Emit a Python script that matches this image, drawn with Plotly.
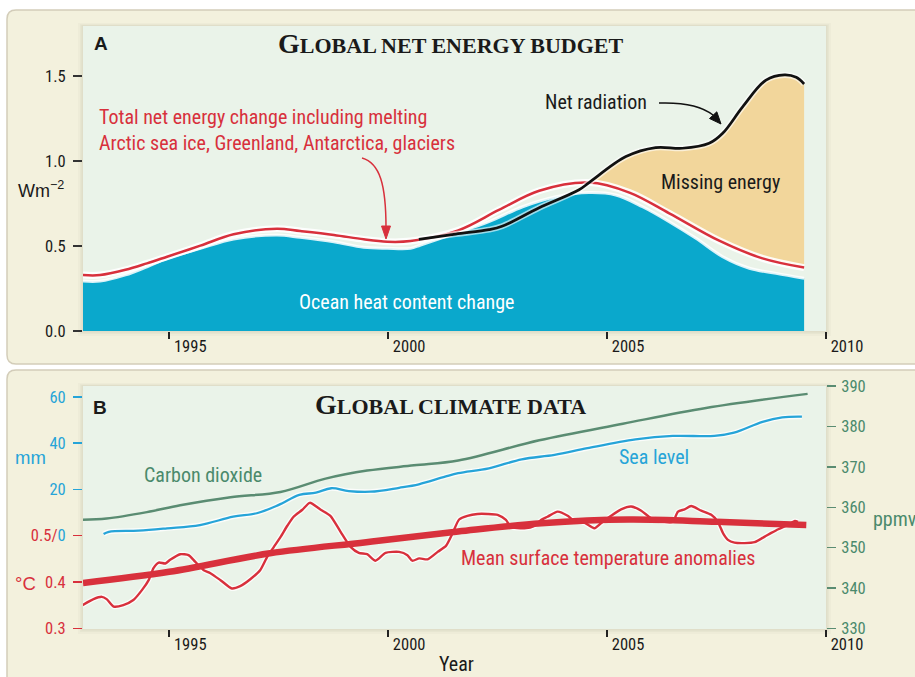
import plotly.graph_objects as go

# ---------------- Panel A data (W m-2) ----------------
ocean_year = [1993.03, 1993.42, 1994.0, 1994.49, 1994.95, 1995.71, 1996.47, 1997.46, 1997.99, 1998.76,
              1999.44, 1999.98, 2000.51, 2000.74, 2001.54, 2002.3, 2003.07, 2003.83, 2004.59, 2005.2,
              2005.81, 2006.42, 2007.03, 2007.64, 2008.25, 2008.86, 2009.5]
ocean_heat = [0.294, 0.294, 0.33, 0.378, 0.427, 0.486, 0.541, 0.565, 0.551, 0.525,
              0.492, 0.486, 0.486, 0.506, 0.575, 0.643, 0.731, 0.790, 0.814, 0.800,
              0.731, 0.643, 0.545, 0.437, 0.369, 0.339, 0.31]

total_year = [1993.03, 1993.42, 1994.0, 1994.49, 1994.95, 1995.71, 1996.47, 1997.46, 1997.99, 1998.76,
              1999.44, 1999.98, 2000.51, 2001.6, 2002.53, 2003.45, 2004.59, 2005.51, 2006.42, 2007.56,
              2008.55, 2009.5]
total_energy = [0.329, 0.329, 0.36, 0.398, 0.437, 0.502, 0.569, 0.602, 0.588, 0.565,
                0.539, 0.525, 0.529, 0.592, 0.712, 0.825, 0.873, 0.814, 0.692, 0.531,
                0.427, 0.373]

netrad_year = [2000.70, 2001.54, 2002.3, 2002.6, 2003.45, 2004.36, 2004.59, 2005.43, 2006.11, 2006.72,
               2007.33, 2007.64, 2008.1, 2008.63, 2009.05, 2009.32, 2009.5]
net_radiation = [0.539, 0.57, 0.596, 0.616, 0.725, 0.831, 0.873, 1.026, 1.079, 1.075,
                 1.104, 1.163, 1.32, 1.476, 1.506, 1.492, 1.453]

# ---------------- Panel B data ----------------
co2_year = [1993.03, 1993.57, 1994.49, 1995.25, 1996.4, 1997.54, 1998.57, 1999.52, 2000.59, 2001.6,
            2003.45, 2005.36, 2007.26, 2009.58]
co2_ppmv = [356.9, 357.2, 358.8, 360.5, 362.5, 363.8, 367.1, 369.1, 370.4, 371.6,
            376.6, 380.7, 384.6, 388.1]

sea_year = [1993.5, 1993.62, 1994.3, 1994.95, 1995.7, 1996.46, 1997.0, 1997.5, 1997.97, 1998.35,
            1998.7, 1999.1, 1999.6, 2000.25, 2000.7, 2001.3, 2001.6, 2002.3, 2003.05, 2003.8,
            2004.55, 2005.65, 2006.5, 2007.45, 2007.9, 2008.55, 2009.0, 2009.45]
sea_level_mm = [0.7, 1.7, 2.2, 3.2, 4.6, 8.2, 9.7, 13.3, 17.6, 18.6,
                20.5, 19.3, 19.0, 20.7, 22.2, 25.5, 27.0, 29.1, 33.0, 34.9,
                37.8, 41.6, 43.1, 43.1, 44.5, 49.2, 51.1, 51.4]

temp_year = [1992.96, 1993.27, 1993.46, 1993.57, 1993.73, 1993.95, 1994.18, 1994.38, 1994.53, 1994.64,
             1994.76, 1994.91, 1995.02, 1995.25, 1995.44, 1995.59, 1995.78, 1995.94, 1996.17, 1996.43,
             1996.62, 1996.85, 1997.08, 1997.24, 1997.39, 1997.54, 1997.7, 1997.84, 1998.04, 1998.21,
             1998.46, 1998.68, 1998.91, 1999.14, 1999.33, 1999.52, 1999.71, 1999.94, 2000.25, 2000.44,
             2000.55, 2000.71, 2000.90, 2001.13, 2001.32, 2001.47, 2001.62, 2001.81, 2002.04, 2002.27,
             2002.5, 2002.69, 2002.80, 2003.11, 2003.34, 2003.49, 2003.64, 2003.87, 2004.10, 2004.25,
             2004.48, 2004.71, 2004.86, 2005.09, 2005.32, 2005.55, 2005.78, 2006.0, 2006.31, 2006.5,
             2006.62, 2006.77, 2006.92, 2007.15, 2007.38, 2007.53, 2007.65, 2007.76, 2007.91, 2008.14,
             2008.37, 2008.6, 2008.75, 2008.91, 2009.13, 2009.29, 2009.36]
temp_anomaly = [0.347, 0.363, 0.368, 0.363, 0.347, 0.350, 0.361, 0.383, 0.404, 0.430,
                0.442, 0.440, 0.448, 0.460, 0.458, 0.444, 0.426, 0.419, 0.404, 0.386,
                0.391, 0.406, 0.426, 0.455, 0.476, 0.497, 0.522, 0.541, 0.556, 0.571,
                0.556, 0.543, 0.509, 0.476, 0.463, 0.460, 0.446, 0.463, 0.465, 0.458,
                0.446, 0.451, 0.449, 0.465, 0.478, 0.505, 0.535, 0.543, 0.547, 0.547,
                0.545, 0.534, 0.519, 0.516, 0.521, 0.534, 0.541, 0.552, 0.543, 0.532,
                0.528, 0.516, 0.527, 0.543, 0.557, 0.563, 0.554, 0.538, 0.530, 0.530,
                0.552, 0.557, 0.564, 0.554, 0.545, 0.530, 0.505, 0.491, 0.485, 0.484,
                0.486, 0.498, 0.506, 0.514, 0.523, 0.532, 0.530]

trend_year = [1993.03, 1995.0, 1997.3, 1999.5, 2001.6, 2003.5, 2005.5, 2007.5, 2009.55]
temp_trend = [0.398, 0.422, 0.462, 0.486, 0.509, 0.527, 0.535, 0.530, 0.523]

year_ticks = [1995, 2000, 2005, 2010]
energy_ticks = [0.0, 0.5, 1.0, 1.5]
temp_ticks = [0.3, 0.4, 0.5]
mm_ticks = [20, 40, 60]
ppmv_ticks = [330, 340, 350, 360, 370, 380, 390]

# ---------------- helpers ----------------
W, H = 915, 677
def px(x):
    return x / W
def py(y):
    return 1 - y / H
def P(x, y):
    return f"{px(x)},{py(y)}"

SANS = "Liberation Sans Narrow, Roboto Condensed, Roboto, sans-serif"
SERIF = "Liberation Serif, DejaVu Serif, serif"
RED = "#d8303c"
BLUE_OCEAN = "#0aa8cc"
TAN = "#f2d69b"
MINT = "#eaf3e9"
CREAM = "#f3f1dd"
SEA = "#26a4d8"
CO2C = "#5a8c72"
CO2T = "#4a8a6c"
DARK = "#1a1a1a"

fig = go.Figure()

# ---------------- Panel A traces ----------------
fig.add_trace(go.Scatter(x=ocean_year, y=ocean_heat, mode="lines", fill="tozeroy",
                         fillcolor=BLUE_OCEAN, line=dict(color="rgba(255,255,255,0.85)", width=3, shape="spline"),
                         xaxis="x", yaxis="y", hoverinfo="skip"))

# Missing energy: area between total (below) and net radiation (above) after they cross
cross = 2004.59
lo_x = [x for x in total_year if x >= cross]
lo_y = [v for x, v in zip(total_year, total_energy) if x >= cross]
hi_x = [x for x in netrad_year if x >= cross]
hi_y = [v for x, v in zip(netrad_year, net_radiation) if x >= cross]
fig.add_trace(go.Scatter(x=lo_x, y=lo_y, mode="lines", line=dict(width=0, color=TAN, shape="spline"),
                         xaxis="x", yaxis="y", hoverinfo="skip"))
fig.add_trace(go.Scatter(x=hi_x, y=hi_y, mode="lines", fill="tonexty", fillcolor=TAN,
                         line=dict(width=0, color=TAN, shape="spline"), xaxis="x", yaxis="y", hoverinfo="skip"))

fig.add_trace(go.Scatter(x=total_year, y=total_energy, mode="lines",
                         line=dict(color="rgba(255,255,255,0.9)", width=7, shape="spline"),
                         xaxis="x", yaxis="y", hoverinfo="skip"))
fig.add_trace(go.Scatter(x=total_year, y=total_energy, mode="lines",
                         line=dict(color=RED, width=2.5, shape="spline"),
                         xaxis="x", yaxis="y", hoverinfo="skip"))
fig.add_trace(go.Scatter(x=netrad_year, y=net_radiation, mode="lines",
                         line=dict(color="rgba(255,255,255,0.6)", width=6, shape="spline"),
                         xaxis="x", yaxis="y", hoverinfo="skip"))
fig.add_trace(go.Scatter(x=netrad_year, y=net_radiation, mode="lines",
                         line=dict(color="#111111", width=2.7, shape="spline"),
                         xaxis="x", yaxis="y", hoverinfo="skip"))

# ---------------- Panel B traces ----------------
fig.add_trace(go.Scatter(x=co2_year, y=co2_ppmv, mode="lines",
                         line=dict(color=CO2C, width=2.5, shape="spline"),
                         xaxis="x2", yaxis="y4", hoverinfo="skip"))
fig.add_trace(go.Scatter(x=sea_year, y=sea_level_mm, mode="lines",
                         line=dict(color="rgba(255,255,255,0.8)", width=5, shape="spline"),
                         xaxis="x2", yaxis="y3", hoverinfo="skip"))
fig.add_trace(go.Scatter(x=sea_year, y=sea_level_mm, mode="lines",
                         line=dict(color=SEA, width=2.3, shape="spline"),
                         xaxis="x2", yaxis="y3", hoverinfo="skip"))
fig.add_trace(go.Scatter(x=temp_year, y=temp_anomaly, mode="lines",
                         line=dict(color="rgba(255,255,255,0.8)", width=5, shape="spline", smoothing=0.6),
                         xaxis="x2", yaxis="y2", hoverinfo="skip"))
fig.add_trace(go.Scatter(x=temp_year, y=temp_anomaly, mode="lines",
                         line=dict(color=RED, width=2.4, shape="spline", smoothing=0.6),
                         xaxis="x2", yaxis="y2", hoverinfo="skip"))
fig.add_trace(go.Scatter(x=trend_year, y=temp_trend, mode="lines",
                         line=dict(color=RED, width=6.5, shape="spline"),
                         xaxis="x2", yaxis="y2", hoverinfo="skip"))

# ---------------- shapes ----------------
shapes = []
r = 9
pa = (f"M {P(915, 10)} L {P(7 + r, 10)} Q {P(7, 10)} {P(7, 10 + r)} L {P(7, 364 - r)} "
      f"Q {P(7, 364)} {P(7 + r, 364)} L {P(915, 364)}")
shapes.append(dict(type="path", path=pa + " Z", xref="paper", yref="paper",
                   fillcolor=CREAM, line=dict(width=0), layer="below"))
shapes.append(dict(type="path", path=pa, xref="paper", yref="paper",
                   line=dict(color="#d3cdb9", width=1.5), layer="below"))
pb = f"M {P(915, 370)} L {P(7 + r, 370)} Q {P(7, 370)} {P(7, 370 + r)} L {P(7, 677)}"
shapes.append(dict(type="path", path=pb + f" L {P(915, 677)} Z", xref="paper", yref="paper",
                   fillcolor=CREAM, line=dict(width=0), layer="below"))
shapes.append(dict(type="path", path=pb, xref="paper", yref="paper",
                   line=dict(color="#d3cdb9", width=1.5), layer="below"))

for (t, b) in [(26, 331), (386, 629)]:
    for d, a in [(5, 0.035), (3, 0.05), (1.5, 0.06)]:
        shapes.append(dict(type="rect", xref="paper", yref="paper",
                           x0=px(83 - d), x1=px(826 + d), y0=py(b + d), y1=py(t - d * 0.6),
                           fillcolor=f"rgba(120,110,80,{a})", line=dict(width=0), layer="below"))
    shapes.append(dict(type="rect", xref="paper", yref="paper", x0=px(83), x1=px(826),
                       y0=py(b), y1=py(t), fillcolor=MINT, line=dict(width=0), layer="below"))

# curved arrows with filled heads
shapes.append(dict(type="path", xref="paper", yref="paper",
                   path=f"M {P(362, 158)} C {P(380, 163)} {P(386, 185)} {P(386, 228)}",
                   line=dict(color=RED, width=1.5)))
shapes.append(dict(type="path", xref="paper", yref="paper",
                   path=f"M {P(381.5, 226)} L {P(390.5, 226)} L {P(386, 239)} Z",
                   fillcolor=RED, line=dict(color=RED, width=1)))
shapes.append(dict(type="path", xref="paper", yref="paper",
                   path=f"M {P(659, 103)} C {P(688, 102)} {P(703, 107)} {P(713, 115)}",
                   line=dict(color="#111111", width=1.5)))
shapes.append(dict(type="path", xref="paper", yref="paper",
                   path=f"M {P(709.5, 118.5)} L {P(716.8, 111.8)} L {P(721, 124)} Z",
                   fillcolor="#111111", line=dict(color="#111111", width=1)))

# ---------------- annotations ----------------
ann = []
def text(x, y, s, size, color, family=SANS, xanchor="center", align="center"):
    ann.append(dict(x=px(x), y=py(y), xref="paper", yref="paper", text=s, showarrow=False,
                    xanchor=xanchor, yanchor="middle", align=align,
                    font=dict(size=size, color=color, family=family)))

def small_caps(first, rest, big, small):
    return (f"<span style='font-size:{big}px'>{first}</span>"
            f"<span style='font-size:{small}px'>{rest}</span>")

FS = 20
text(101, 43, "<b>A</b>", 19, DARK, family="Liberation Sans, sans-serif")
text(450, 44, "<b>" + small_caps("G", "LOBAL NET ENERGY BUDGET", 28, 22) + "</b>", 22, DARK, family=SERIF)
text(97, 130, "Total net energy change including melting<br>Arctic sea ice, Greenland, Antarctica, glaciers",
     FS, RED, xanchor="left", align="left")
text(596, 102, "Net radiation", FS, DARK)
text(720, 182, "Missing energy", FS, DARK)
text(406, 302, "Ocean heat content change", FS, "white")
text(41, 190, "Wm<sup>−2</sup>", 18, DARK, family="Liberation Sans, sans-serif")

text(100, 407, "<b>B</b>", 19, DARK, family="Liberation Sans, sans-serif")
text(450, 404, "<b>" + small_caps("G", "LOBAL CLIMATE DATA", 28, 22) + "</b>", 22, DARK, family=SERIF)
text(203, 475, "Carbon dioxide", FS, CO2T)
text(654, 457, "Sea level", FS, SEA)
text(608, 558, "Mean surface temperature anomalies", FS, RED)
text(31, 457, "mm", 18.5, SEA, family="Liberation Sans, sans-serif")
text(25, 583, "°C", 18.5, RED, family="Liberation Sans, sans-serif")
text(871, 519, "ppmv", FS, CO2T, xanchor="left")
text(456, 664, "Year", FS, DARK)

# ---------------- axes ----------------
xdom = [px(83), px(826)]
xrange_ = [1993.03, 2010.0]
common_x = dict(domain=xdom, range=xrange_, tickvals=year_ticks, ticks="outside", ticklen=7,
                tickwidth=2, tickcolor="#222", showgrid=False, zeroline=False, showline=False,
                ticklabelshift=21, ticklabelstandoff=-7, automargin=False,
                tickfont=dict(size=16.5, color=DARK, family=SANS), fixedrange=True)
common_y = dict(ticks="outside", ticklen=9, tickwidth=1.5, showgrid=False, zeroline=False,
                showline=False, automargin=False, fixedrange=True)

fig.update_layout(
    width=W, height=H, margin=dict(l=0, r=0, t=0, b=0, autoexpand=False),
    paper_bgcolor="white", plot_bgcolor="rgba(0,0,0,0)", showlegend=False,
    xaxis=dict(anchor="y", **common_x),
    yaxis=dict(domain=[py(331), py(26)], range=[0, 1.794], tickvals=energy_ticks,
               ticktext=[f"{v:.1f}" for v in energy_ticks], tickcolor="#333",
               tickfont=dict(size=16.5, color=DARK, family=SANS), ticklabelstandoff=4, **common_y),
    xaxis2=dict(anchor="y2", **common_x),
    yaxis2=dict(domain=[py(629), py(386)], range=[0.2985, 0.8233], tickvals=temp_ticks,
                ticktext=["0.3", "0.4", f"0.5/<span style='color:{SEA}'>0</span>"], tickcolor=RED,
                tickfont=dict(size=16.5, color=RED, family=SANS), ticklabelstandoff=4, anchor="x2",
                **common_y),
    yaxis3=dict(overlaying="y2", side="left", anchor="x2", range=[-40.3, 64.66], tickvals=mm_ticks,
                tickcolor=SEA, tickfont=dict(size=16.5, color=SEA, family=SANS), ticklabelstandoff=4,
                **common_y),
    yaxis4=dict(overlaying="y2", side="right", anchor="x2", range=[329.85, 390.05], tickvals=ppmv_ticks,
                tickcolor=CO2C, tickfont=dict(size=16.5, color=CO2T, family=SANS), ticklabelstandoff=2,
                **common_y),
    shapes=shapes, annotations=ann,
)

fig.write_html("out.html", config={"displayModeBar": False, "staticPlot": True},
               post_script="document.body.style.margin='0';")
